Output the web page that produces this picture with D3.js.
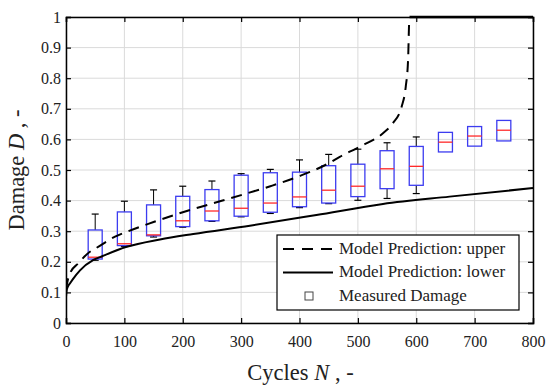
<!DOCTYPE html>
<html>
<head>
<meta charset="utf-8">
<script src="https://cdn.jsdelivr.net/npm/d3@7"></script>
<style>
  body { margin: 0; background: #fff; }
  text { font-family: "Liberation Serif", serif; fill: #222; }
</style>
</head>
<body>
<div class="chart"></div>
<script>
// Box plot data
var cycles = [50, 100, 150, 200, 250, 300, 350, 400, 450, 500, 550, 600, 650, 700, 750];
var whiskLo = [0.205, 0.250, 0.281, 0.313, 0.332, 0.347, 0.358, 0.377, 0.390, 0.401, 0.407, 0.423, 0.559, 0.578, 0.595];
var q1 = [0.209, 0.253, 0.285, 0.315, 0.334, 0.349, 0.362, 0.380, 0.392, 0.413, 0.439, 0.450, 0.559, 0.578, 0.595];
var median = [0.215, 0.259, 0.288, 0.334, 0.366, 0.375, 0.392, 0.412, 0.434, 0.447, 0.504, 0.512, 0.591, 0.611, 0.630];
var q3 = [0.304, 0.363, 0.386, 0.414, 0.436, 0.483, 0.491, 0.493, 0.514, 0.519, 0.563, 0.577, 0.623, 0.642, 0.662];
var whiskHi = [0.356, 0.398, 0.435, 0.447, 0.464, 0.488, 0.502, 0.533, 0.551, 0.568, 0.589, 0.608, 0.623, 0.642, 0.662];

// Model prediction curves
var upperN = [0, 3, 7, 21, 41, 50, 84, 100, 150, 200, 250, 300, 350, 400, 450, 469, 503, 543, 560, 575, 582, 586, 588, 588.5, 800];
var upperD = [0.11, 0.14, 0.163, 0.195, 0.233, 0.243, 0.282, 0.295, 0.33, 0.362, 0.39, 0.418, 0.447, 0.48, 0.522, 0.543, 0.576, 0.62, 0.653, 0.707, 0.772, 0.86, 0.99, 1.0, 1.0];
var lowerN = [0, 1, 3, 7, 12.5, 24, 47, 63, 104, 161, 218, 315, 429, 543, 657, 800];
var lowerD = [0.085, 0.105, 0.118, 0.13, 0.145, 0.172, 0.206, 0.219, 0.249, 0.273, 0.291, 0.318, 0.353, 0.389, 0.413, 0.441];

var xTicks = [0, 100, 200, 300, 400, 500, 600, 700, 800];
var yTicks = [0, 0.1, 0.2, 0.3, 0.4, 0.5, 0.6, 0.7, 0.8, 0.9, 1];
var legendLabels = ["Model Prediction: upper", "Model Prediction: lower", "Measured Damage"];

var svgWidth = 550;
var svgHeight = 391;
var margin = { top: 17, right: 17, bottom: 68, left: 66 };
var width = svgWidth - margin.left - margin.right;
var height = svgHeight - margin.top - margin.bottom;

var svg = d3.select(".chart")
  .append("svg")
  .attr("width", svgWidth)
  .attr("height", svgHeight);

var chart = svg.append("g")
  .attr("transform", "translate(" + margin.left + "," + margin.top + ")");

var xScale = d3.scaleLinear().domain([0, 800]).range([0, width]);
var yScale = d3.scaleLinear().domain([0, 1]).range([height, 0]);

// Grid lines
chart.append("g")
  .selectAll("line")
  .data(xTicks)
  .enter()
  .append("line")
  .attr("x1", function (d) { return xScale(d); })
  .attr("x2", function (d) { return xScale(d); })
  .attr("y1", 0)
  .attr("y2", height)
  .attr("stroke", "#dadada")
  .attr("stroke-width", 1);

chart.append("g")
  .selectAll("line")
  .data(yTicks)
  .enter()
  .append("line")
  .attr("y1", function (d) { return yScale(d); })
  .attr("y2", function (d) { return yScale(d); })
  .attr("x1", 0)
  .attr("x2", width)
  .attr("stroke", "#dadada")
  .attr("stroke-width", 1);

// Clip for the curves
svg.append("defs").append("clipPath")
  .attr("id", "plotClip")
  .append("rect")
  .attr("x", 0).attr("y", -1)
  .attr("width", width).attr("height", height + 1);

// Box plots
var boxHalf = 12;
var capHalf = 6;
var boxes = chart.append("g");
cycles.forEach(function (n, i) {
  var g = boxes.append("g");
  var cx = xScale(n);
  // whiskers
  if (whiskHi[i] > q3[i]) {
    g.append("line")
      .attr("x1", cx).attr("x2", cx)
      .attr("y1", yScale(q3[i])).attr("y2", yScale(whiskHi[i]))
      .attr("stroke", "#000").attr("stroke-width", 1);
    g.append("line")
      .attr("x1", xScale(n - capHalf)).attr("x2", xScale(n + capHalf))
      .attr("y1", yScale(whiskHi[i])).attr("y2", yScale(whiskHi[i]))
      .attr("stroke", "#000").attr("stroke-width", 1.2);
  }
  if (whiskLo[i] < q1[i]) {
    g.append("line")
      .attr("x1", cx).attr("x2", cx)
      .attr("y1", yScale(q1[i])).attr("y2", yScale(whiskLo[i]))
      .attr("stroke", "#000").attr("stroke-width", 1);
    g.append("line")
      .attr("x1", xScale(n - capHalf)).attr("x2", xScale(n + capHalf))
      .attr("y1", yScale(whiskLo[i])).attr("y2", yScale(whiskLo[i]))
      .attr("stroke", "#000").attr("stroke-width", 1.2);
  }
  g.append("rect")
    .attr("x", xScale(n - boxHalf))
    .attr("width", xScale(n + boxHalf) - xScale(n - boxHalf))
    .attr("y", yScale(q3[i]))
    .attr("height", yScale(q1[i]) - yScale(q3[i]))
    .attr("fill", "none")
    .attr("stroke", "#3c3cf0")
    .attr("stroke-width", 1.3);
  g.append("line")
    .attr("x1", xScale(n - boxHalf)).attr("x2", xScale(n + boxHalf))
    .attr("y1", yScale(median[i])).attr("y2", yScale(median[i]))
    .attr("stroke", "#ff2a2a").attr("stroke-width", 1.3);
});

// Model curves
var lineGen = d3.line()
  .x(function (d) { return xScale(d[0]); })
  .y(function (d) { return yScale(d[1]); })
  .curve(d3.curveMonotoneX);

var upperData = upperN.map(function (n, i) { return [n, upperD[i]]; });
var lowerData = lowerN.map(function (n, i) { return [n, lowerD[i]]; });
// rising part is dashed, saturated part (D = 1) runs along the top
var upperRise = upperData.filter(function (d, i) { return i === 0 || upperData[i - 1][1] < 1; });
var upperFlat = upperData.filter(function (d) { return d[1] >= 1; });

chart.append("path")
  .datum(lowerData)
  .attr("clip-path", "url(#plotClip)")
  .attr("d", lineGen)
  .attr("fill", "none")
  .attr("stroke", "#000")
  .attr("stroke-width", 2);

chart.append("path")
  .datum(upperRise)
  .attr("clip-path", "url(#plotClip)")
  .attr("d", lineGen)
  .attr("fill", "none")
  .attr("stroke", "#000")
  .attr("stroke-width", 2)
  .attr("stroke-dasharray", "11,7");

chart.append("path")
  .datum(upperFlat)
  .attr("d", d3.line().x(function (d) { return xScale(d[0]); }).y(function (d) { return yScale(d[1]); }))
  .attr("fill", "none")
  .attr("stroke", "#000")
  .attr("stroke-width", 2.5);

// Axes (box with inward ticks on all sides)
function styleAxis(g) {
  g.attr("font-family", null);
  g.select(".domain").attr("stroke-width", 1.5);
  g.selectAll("line").attr("stroke-width", 1.2);
  g.selectAll("text").style("font-size", "16px").attr("fill", "#222");
}

chart.append("g")
  .attr("transform", "translate(0," + height + ")")
  .call(d3.axisBottom(xScale).tickValues(xTicks).tickSize(-5).tickPadding(13).tickFormat(d3.format("d")))
  .call(styleAxis);

chart.append("g")
  .call(d3.axisLeft(yScale).tickValues(yTicks).tickSize(-5).tickPadding(5).tickFormat(function (d) { return d === 0 || d === 1 ? d : d3.format(".1f")(d); }))
  .call(styleAxis);

chart.append("g")
  .call(d3.axisTop(xScale).tickValues(xTicks).tickSize(-5).tickFormat(""))
  .call(styleAxis);

chart.append("g")
  .attr("transform", "translate(" + width + ",0)")
  .call(d3.axisRight(yScale).tickValues(yTicks).tickSize(-5).tickFormat(""))
  .call(styleAxis);

// Axis titles
var xTitle = svg.append("text")
  .attr("x", margin.left + width / 2 + 1)
  .attr("y", 380)
  .attr("text-anchor", "middle")
  .style("font-size", "22.5px");
xTitle.append("tspan").text("Cycles ");
xTitle.append("tspan").style("font-style", "italic").text("N");
xTitle.append("tspan").text(" , -");

var yTitle = svg.append("text")
  .attr("transform", "translate(23.5," + (margin.top + height / 2) + ") rotate(-90)")
  .attr("text-anchor", "middle")
  .style("font-size", "22.5px");
yTitle.append("tspan").text("Damage ");
yTitle.append("tspan").style("font-style", "italic").text("D");
yTitle.append("tspan").text(" , -");

// Legend
var legend = svg.append("g").attr("transform", "translate(277,235)");
legend.append("rect")
  .attr("width", 242).attr("height", 75)
  .attr("fill", "#fff").attr("stroke", "#000").attr("stroke-width", 1.2);

var legendY = [14, 37.5, 61];
legendLabels.forEach(function (label, i) {
  var ly = legendY[i];
  if (i === 0 || i === 1) {
    legend.append("line")
      .attr("x1", 6).attr("x2", 56)
      .attr("y1", ly).attr("y2", ly)
      .attr("stroke", "#000").attr("stroke-width", 2)
      .attr("stroke-dasharray", i === 0 ? "11,8" : null);
  } else {
    legend.append("rect")
      .attr("x", 28).attr("y", ly - 4)
      .attr("width", 8).attr("height", 8)
      .attr("fill", "none").attr("stroke", "#444").attr("stroke-width", 1);
  }
  legend.append("text")
    .attr("x", 62).attr("y", ly + 4.5)
    .style("font-size", "17px")
    .text(label);
});
</script>
</body>
</html>
